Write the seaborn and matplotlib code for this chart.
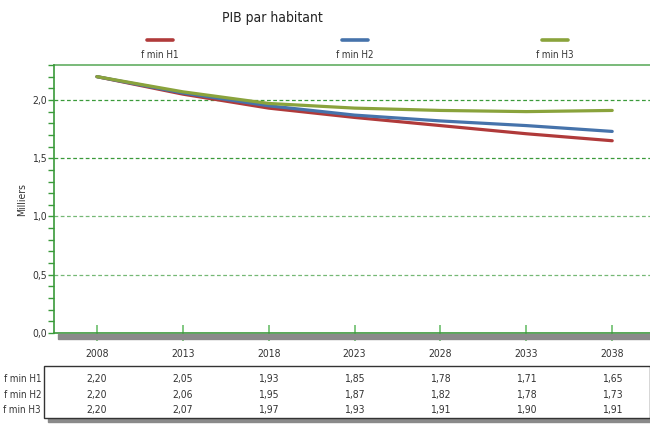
import matplotlib
matplotlib.use("Agg")
import matplotlib.pyplot as plt
import matplotlib.ticker as mticker
import matplotlib.transforms as mtrans
from matplotlib.patches import Rectangle
from matplotlib.lines import Line2D
import pandas as pd
import seaborn as sns

# ---------------------------------------------------------------------------
# Data
# ---------------------------------------------------------------------------
years = [2008, 2013, 2018, 2023, 2028, 2033, 2038]
series_names = ["f min H1", "f min H2", "f min H3"]
h1 = [2.20, 2.05, 1.93, 1.85, 1.78, 1.71, 1.65]
h2 = [2.20, 2.06, 1.95, 1.87, 1.82, 1.78, 1.73]
h3 = [2.20, 2.07, 1.97, 1.93, 1.91, 1.90, 1.91]
y_ticks = [0.0, 0.5, 1.0, 1.5, 2.0]

COLOURS = {"f min H1": "#b03a3a", "f min H2": "#4673ab", "f min H3": "#8aa33c"}
GREEN = "#3a9a3a"
TEXT = "#333333"
SMALL = 7

df = pd.DataFrame({
    "year": years * 3,
    "value": h1 + h2 + h3,
    "series": [s for s in series_names for _ in years],
})

sns.set_style("white")
plt.rcParams["font.family"] = ["DejaVu Sans"]
plt.rcParams["font.stretch"] = "condensed"

W, H = 650, 424
fig = plt.figure(figsize=(W / 100, H / 100), dpi=100)
fig.patch.set_facecolor("white")

def fx(px):
    return px / W

def fy(py):
    return 1 - py / H

ax = fig.add_axes([fx(54), fy(333), fx(650 - 54), fy(65) - fy(333)])
ax.set_facecolor("white")

sns.lineplot(data=df, x="year", y="value", hue="series", palette=COLOURS,
             linewidth=2.3, legend=False, ax=ax)

ax.set_xlim(2005.5, 2040.2)
ax.set_ylim(0, 2.3)

# grid
for v in y_ticks[1:]:
    ax.axhline(v, color=GREEN, lw=0.9, ls=(0, (3, 2)),
               alpha=1.0 if v >= 1.5 else 0.7, zorder=0)

for side in ["top", "left", "bottom"]:
    ax.spines[side].set_color(GREEN)
    ax.spines[side].set_linewidth(1.2)
ax.spines["right"].set_visible(False)
ax.spines["top"].set_alpha(0.8)

ax.set_yticks(y_ticks)
ax.yaxis.set_major_formatter(mticker.FuncFormatter(lambda v, p: f"{v:.1f}".replace(".", ",")))
ax.yaxis.set_minor_locator(mticker.MultipleLocator(0.1))
ax.tick_params(axis="y", which="both", direction="out", length=4, width=1,
               color=GREEN, labelsize=SMALL + 0.5, labelcolor=TEXT, pad=1, left=True)
ax.set_ylabel("Milliers", fontsize=SMALL + 0.5, color=TEXT, labelpad=4)

ax.set_xticks(years)
ax.set_xticklabels([str(y) for y in years])
ax.tick_params(axis="x", direction="inout", length=11, width=1.2,
               color="#6cbf6c", labelsize=SMALL + 0.5, labelcolor=TEXT, pad=6, bottom=True)
ax.set_xlabel("")

# shadow under x axis
fig.patches.append(Rectangle((fx(58), fy(339)), fx(650 - 58), fy(334) - fy(339),
                             transform=fig.transFigure, color="#8a8a8a",
                             zorder=0))

# title
fig.text(fx(272), fy(18), "PIB par habitant", ha="center", va="center",
         fontsize=10, color="#222222")

# legend (handle above label)
for name, cx in zip(series_names, [160, 355, 555]):
    fig.lines.append(Line2D([fx(cx - 13), fx(cx + 13)], [fy(40), fy(40)],
                            transform=fig.transFigure, color=COLOURS[name], lw=2.6))
    fig.text(fx(cx), fy(55), name, ha="center", va="center", fontsize=SMALL,
             color=TEXT)

# data table
fig.patches.append(Rectangle((fx(48), fy(422)), fx(650 - 48), fy(418) - fy(422),
                             transform=fig.transFigure, color="#8a8a8a", zorder=0))
fig.patches.append(Rectangle((fx(44), fy(418)), fx(650 - 44), fy(366) - fy(418),
                             transform=fig.transFigure, facecolor="white",
                             edgecolor="#333333", lw=1, zorder=1))
blend = mtrans.blended_transform_factory(ax.transData, fig.transFigure)
for name, vals, py in zip(series_names, [h1, h2, h3], [379, 395, 410]):
    fig.text(fx(41), fy(py), name, ha="right", va="center", fontsize=SMALL,
             color=TEXT, zorder=5)
    for yr, v in zip(years, vals):
        fig.text(yr, fy(py), f"{v:.2f}".replace(".", ","), transform=blend,
                 ha="center", va="center", fontsize=SMALL + 0.5, color=TEXT, zorder=5)

fig.savefig("out.png", dpi=100)
